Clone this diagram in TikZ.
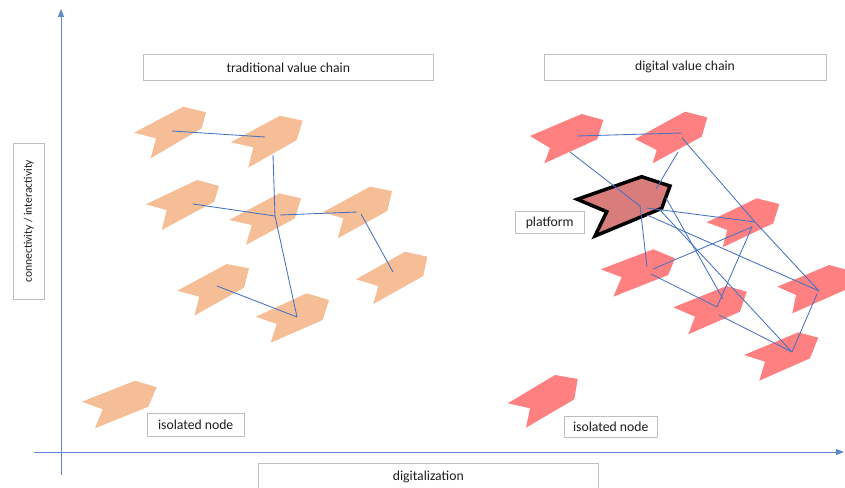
\documentclass[tikz,border=0pt]{standalone}
\usepackage{fontspec}
\setmainfont{Carlito}
\usetikzlibrary{arrows.meta}
\definecolor{peach}{RGB}{245,190,151}
\definecolor{salmon}{RGB}{255,128,128}
\definecolor{plat}{RGB}{217,125,124}
\definecolor{linkblue}{RGB}{68,114,196}
\definecolor{boxgray}{RGB}{191,191,191}
\definecolor{txt}{RGB}{30,30,30}
\begin{document}
\begin{tikzpicture}[x=1pt,y=-1pt,
  ochev/.style={fill=peach,draw=none},
  rchev/.style={fill=salmon,draw=none},
  platchev/.style={fill=plat,draw=black,line width=3.5pt,line join=miter},
  link/.style={draw=linkblue,line width=0.85pt},
  axis/.style={draw=linkblue!85,line width=0.9pt,-{Triangle[length=8pt,width=6pt]}},
  box/.style={draw=boxgray,line width=0.8pt,fill=white,text=txt,font=\fontsize{13.7}{15}\selectfont,inner sep=0pt}]
\useasboundingbox (0,0) rectangle (845,487);
\clip (0,0) rectangle (845,487);

% axes
\coordinate (yb) at (61,475); \coordinate (yt) at (61,9);
\coordinate (xl) at (34,452); \coordinate (xr) at (844,452);
\draw[axis] (yb) -- (yt);
\draw[axis] (xl) -- (xr);

% orange chevrons
\fill[ochev] (134,132.7) -- (183.3,106.7) -- (206,112.3) -- (201.7,128.3) -- (150.7,158.3) -- (156,138.3) -- cycle;
\fill[ochev] (230.7,142.3) -- (280,115.7) -- (302.7,120.7) -- (296.7,140) -- (248.3,167.7) -- (253.3,147.3) -- cycle;
\fill[ochev] (145.7,204.3) -- (197.3,180) -- (219,186) -- (214.3,201.7) -- (161.7,230) -- (166.7,210) -- cycle;
\fill[ochev] (229,220) -- (279.3,193.3) -- (301,198.3) -- (295,218.3) -- (246,245) -- (251.7,225) -- cycle;
\fill[ochev] (322.7,212.3) -- (370,186.7) -- (392,191) -- (387.3,211) -- (337.7,238.3) -- (343.3,218.3) -- cycle;
\fill[ochev] (177.3,290.7) -- (226.7,264) -- (249,268.3) -- (244,287.7) -- (194.3,315.7) -- (199.3,296.7) -- cycle;
\fill[ochev] (255.7,316.7) -- (306.7,293.3) -- (329,300) -- (322.7,320) -- (270.7,342.7) -- (276.7,324) -- cycle;
\fill[ochev] (356,279.3) -- (405,251.7) -- (427.3,256.7) -- (423.3,276) -- (373.3,304) -- (378.3,286) -- cycle;
\fill[ochev] (82,401.7) -- (135,380.7) -- (156.7,387.3) -- (148.3,406.7) -- (95,428.3) -- (102.7,409.3) -- cycle;

% red chevrons
\fill[rchev] (530,136) -- (581.7,114) -- (603.3,120) -- (597.3,139.3) -- (544.3,163.3) -- (550,148) -- cycle;
\fill[rchev] (635,139) -- (685,111.7) -- (707.3,117.3) -- (701.7,136.7) -- (652.7,163.3) -- (656.7,150) -- cycle;
\fill[rchev] (706.7,222.3) -- (756.7,198.3) -- (779.3,204) -- (773.3,223.3) -- (722.7,247.3) -- (727.3,230) -- cycle;
\fill[rchev] (600.7,269.3) -- (653.3,249.3) -- (675,258.3) -- (668.3,275) -- (613.3,296.7) -- (621.7,277.3) -- cycle;
\fill[rchev] (673.3,307.3) -- (726.7,286) -- (746.7,291.7) -- (740,311.7) -- (688.3,334.3) -- (695,316.7) -- cycle;
\fill[rchev] (777.3,286.7) -- (829.3,265) -- (851,271) -- (845,290) -- (792.3,313.3) -- (796,295) -- cycle;
\fill[rchev] (744,355) -- (798.3,332.3) -- (818.3,337.7) -- (810,358.3) -- (759.3,380.7) -- (765,361.7) -- cycle;
\fill[rchev] (507.7,403.3) -- (555,375) -- (577.7,379) -- (574.3,399.3) -- (526,427.7) -- (530,408.3) -- cycle;
% platform
\draw[platchev] (577.3,199.3) -- (641.7,176.7) -- (670,186) -- (661.7,208.3) -- (595,236) -- (606.7,211.7) -- cycle;

% orange link points
\coordinate (o1c) at (172,131);
\coordinate (o2c) at (265,137);
\coordinate (o2d) at (273,155);
\coordinate (o4c) at (275,216);
\coordinate (o4r) at (280,215);
\coordinate (o3c) at (193,204);
\coordinate (o7c) at (297,317);
\coordinate (o6c) at (217,286);
\coordinate (o5c) at (357,212);
\coordinate (o5d) at (361,214);
\coordinate (o8c) at (393,272);
\draw[link] (o1c) -- (o2c);
\draw[link] (o2d) -- (o4c);
\draw[link] (o3c) -- (o4c);
\draw[link] (o4c) -- (o7c);
\draw[link] (o4r) -- (o5c);
\draw[link] (o5d) -- (o8c);
\draw[link] (o6c) -- (o7c);

% red link points
\coordinate (r1c) at (577,136);
\coordinate (r1d) at (570,152);
\coordinate (r2c) at (682,133);
\coordinate (r2e) at (682,138);
\coordinate (r2d) at (678,152);
\coordinate (pc) at (640,206);
\coordinate (pu) at (656,189);
\coordinate (pr) at (647,208);
\coordinate (pr2) at (647,215);
\coordinate (pe) at (666,198);
\coordinate (pe2) at (660,210);
\coordinate (r3c) at (755,222);
\coordinate (r3d) at (752,227);
\coordinate (r4c) at (647,267);
\coordinate (r4d) at (653,269);
\coordinate (r4e) at (651,274);
\coordinate (r5c) at (717,307);
\coordinate (r5t) at (723,299);
\coordinate (r5d) at (719,315);
\coordinate (r6c) at (819,291);
\coordinate (r6d) at (817,294);
\coordinate (r7c) at (792,352);
\draw[link] (r1c) -- (r2c);
\draw[link] (r1d) -- (pc);
\draw[link] (r2d) -- (pu);
\draw[link] (r2e) -- (r3c);
\draw[link] (pc) -- (r4c);
\draw[link] (pr) -- (r3c);
\draw[link] (pr2) -- (r6c);
\draw[link] (pe) -- (r5t);
\draw[link] (pe2) -- (r7c);
\draw[link] (r3d) -- (r4d);
\draw[link] (r3d) -- (r5c);
\draw[link] (r4e) -- (r5c);
\draw[link] (r5d) -- (r7c);
\draw[link] (r6d) -- (r7c);
\draw[link] (r3c) -- (r6c);

% text boxes
\node[box,minimum width=290pt,minimum height=26.7pt] (trad) at (288.3,67.3) {traditional value chain};
\node[box,minimum width=282pt,minimum height=26pt] (digc) at (685,67) {digital value chain};
\node[box,minimum width=69pt,minimum height=21.6pt] (plab) at (549.7,222.5) {platform};
\node[box,minimum width=96.7pt,minimum height=23.4pt] (isoL) at (195.7,425) {isolated node};
\node[box,minimum width=93.3pt,minimum height=20.6pt] (isoR) at (610.7,427) {isolated node};
\node[box,minimum width=340pt,minimum height=28pt] (digi) at (428.3,477.3) {digitalization};
\node[box,rotate=90,minimum width=156pt,minimum height=31pt,font=\fontsize{11.6}{13}\selectfont] (conn) at (28.8,221.3) {connectivity / interactivity};
\end{tikzpicture}
\end{document}
